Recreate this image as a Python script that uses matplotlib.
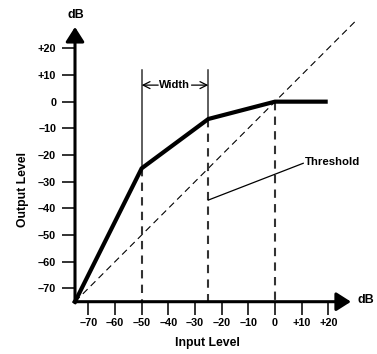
import matplotlib
matplotlib.use("Agg")
import matplotlib.pyplot as plt

# compressor transfer curve (input dB -> output dB)
CURVE_IN = [-75, -50, -25, 0, 19]
CURVE_OUT = [-75, -25, -6.5, 0, 0]

# 1:1 reference line
DIAG_IN = [-75, 30]
DIAG_OUT = [-75, 30]

WIDTH_EDGES = [-50, -25]
WIDTH_TOP = 12
WIDTH_Y = 6.2
THRESHOLD = 0

X_TICKS = [-70, -60, -50, -40, -30, -20, -10, 0, 10, 20]
Y_TICKS = [-70, -60, -50, -40, -30, -20, -10, 0, 10, 20]


def fmt(v):
    if v > 0:
        return "+%d" % v
    if v < 0:
        return "\u2013%d" % abs(v)
    return "0"


plt.rcParams["font.family"] = ["Liberation Sans", "DejaVu Sans"]
plt.rcParams["font.weight"] = "bold"

fig = plt.figure(figsize=(3.77, 3.54), dpi=100)
ax = fig.add_axes([75 / 377, (354 - 301.7) / 354, (360.3 - 75) / 377, (301.7 - 16.3) / 354])
ax.set_xlim(-75, 32)
ax.set_ylim(-75, 32)
for s in ax.spines.values():
    s.set_visible(False)

ax.set_xticks(X_TICKS)
ax.set_xticklabels([fmt(v) for v in X_TICKS])
ax.set_yticks(Y_TICKS)
ax.set_yticklabels([fmt(v) for v in Y_TICKS])
ax.tick_params(direction="out", length=9.5, width=1.3, labelsize=7.8, color="#222222")
ax.tick_params(axis="x", pad=2.5)
ax.tick_params(axis="y", pad=4)

# axes with arrows
arrow = dict(arrowstyle="-|>,head_length=0.55,head_width=0.35", lw=2.2, color="black",
             shrinkA=0, shrinkB=0, mutation_scale=16)
ax.annotate("", xy=(-75, 28), xytext=(-75, -75.4), arrowprops=arrow, annotation_clip=False)
ax.annotate("", xy=(28.5, -75), xytext=(-75.4, -75), arrowprops=arrow, annotation_clip=False)
ax.text(-74.6, 32.3, "dB", fontsize=9, ha="center", va="center", clip_on=False)
ax.text(31, -74.5, "dB", fontsize=9, ha="left", va="center", clip_on=False)

# reference diagonal
ax.plot(DIAG_IN, DIAG_OUT, color="black", lw=0.8, ls=(0, (6, 4)), clip_on=False)

# width markers
for x, y in zip(WIDTH_EDGES, CURVE_OUT[1:3]):
    ax.plot([x, x], [WIDTH_TOP, y], color="#333333", lw=1.1)
    ax.plot([x, x], [y, -75], color="#333333", lw=1.5, ls=(0, (4, 3)))
ax.plot([THRESHOLD, THRESHOLD], [0, -75], color="#333333", lw=1.5, ls=(0, (4, 3)))

small = dict(arrowstyle="->,head_length=0.5,head_width=0.25", lw=0.9, color="black",
             shrinkA=0, shrinkB=0, mutation_scale=10)
ax.annotate("", xy=(WIDTH_EDGES[0], WIDTH_Y), xytext=(-43.8, WIDTH_Y), arrowprops=small)
ax.annotate("", xy=(WIDTH_EDGES[1], WIDTH_Y), xytext=(-31.3, WIDTH_Y), arrowprops=small)
ax.text(-37.6, WIDTH_Y, "Width", fontsize=8, ha="center", va="center")

# threshold leader
ax.plot([-25, 10.6], [-36.9, -23.1], color="black", lw=0.9)
ax.text(11.3, -22.8, "Threshold", fontsize=8.2, ha="left", va="center")

# transfer curve
ax.plot(CURVE_IN, CURVE_OUT, color="black", lw=3, solid_joinstyle="miter", clip_on=False)

ax.text(-94.5, -33, "Output Level", fontsize=8.8, rotation=90, ha="center", va="center", clip_on=False)
ax.text(-25.5, -90.4, "Input Level", fontsize=8.8, ha="center", va="center", clip_on=False)

fig.savefig("out.png", dpi=100)
